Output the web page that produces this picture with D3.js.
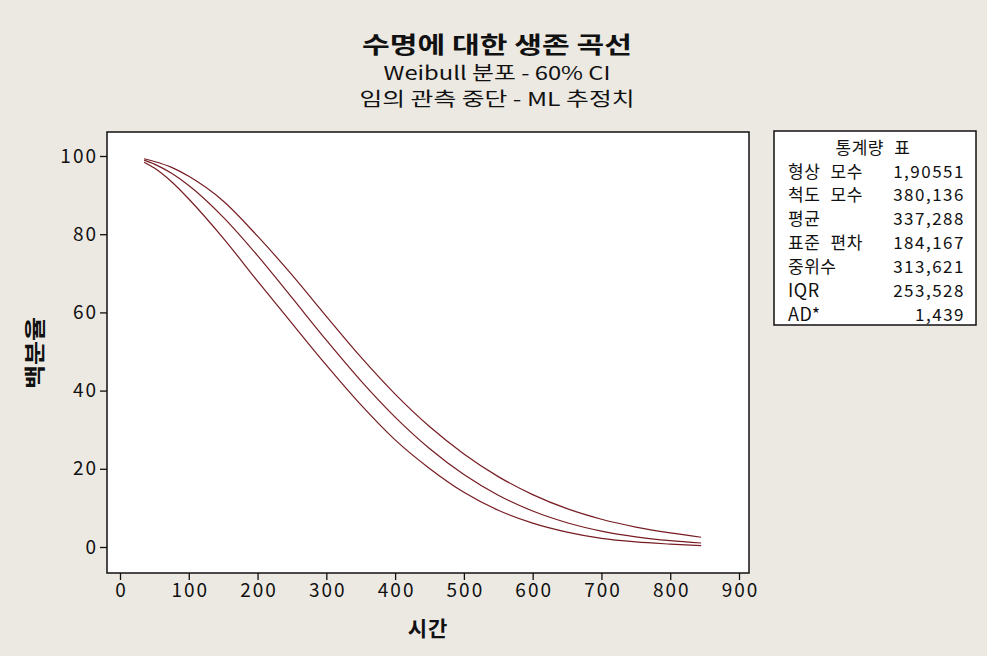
<!DOCTYPE html>
<html>
<head>
<meta charset="utf-8">
<script src="https://cdn.jsdelivr.net/npm/d3@7"></script>
<style>
  body { margin: 0; background: #ece9e3; }
  svg { display: block; }
  text { font-family: "Noto Sans CJK KR", "Noto Sans", sans-serif; fill: #111; }
</style>
</head>
<body>
<svg id="chart" width="987" height="656"></svg>
<script>
// time values where curves were read
const times = [35, 50, 75, 100, 150, 200, 250, 300, 350, 400, 450, 500, 550, 600, 650, 700, 750, 800, 845];
// percent surviving - fitted and 60% CI bounds
const fitted = [98.94, 97.93, 95.56, 92.45, 84.37, 74.52, 63.76, 52.89, 42.56, 33.23, 25.19, 18.53, 13.25, 9.20, 6.21, 4.07, 2.60, 1.61, 1.02];
const upper  = [99.3, 98.6, 97.1, 94.8, 88.5, 79.5, 69.6, 59.0, 48.6, 39.1, 30.8, 23.8, 18.0, 13.4, 9.8, 7.1, 5.1, 3.6, 2.5];
const lower  = [98.4, 96.9, 93.4, 89.0, 79.0, 68.0, 57.2, 46.5, 36.4, 27.4, 20.1, 14.0, 9.4, 6.1, 3.8, 2.2, 1.3, 0.75, 0.35];

const xTicks = [0, 100, 200, 300, 400, 500, 600, 700, 800, 900];
const yTicks = [0, 20, 40, 60, 80, 100];

const statLabels = ["형상 모수", "척도 모수", "평균", "표준 편차", "중위수", "IQR", "AD*"];
const statValues = ["1,90551", "380,136", "337,288", "184,167", "313,621", "253,528", "1,439"];

const svg = d3.select("#chart");

// plot frame
const frame = { left: 107, top: 132, right: 749, bottom: 573 };

const x = d3.scaleLinear().domain([0, 900]).range([120, 739]);
const y = d3.scaleLinear().domain([0, 100]).range([547, 156]);

svg.append("rect")
  .attr("x", frame.left).attr("y", frame.top)
  .attr("width", frame.right - frame.left).attr("height", frame.bottom - frame.top)
  .attr("fill", "#fff").attr("stroke", "#111").attr("stroke-width", 1.5);

// titles (widths stretched to match the wide bitmap font of the original)
const titles = [
  { t: "수명에 대한 생존 곡선", y: 47, size: 23, w: "bold", len: 270 },
  { t: "Weibull 분포 - 60% CI", y: 75, size: 19, w: "normal", len: 227 },
  { t: "임의 관측 중단 - ML 추정치", y: 101, size: 19, w: "normal", len: 275 }
];
svg.selectAll(".title").data(titles).enter().append("text")
  .attr("class", "title")
  .attr("x", 497).attr("y", d => d.y)
  .attr("text-anchor", "middle").attr("dominant-baseline", "middle")
  .attr("textLength", d => d.len).attr("lengthAdjust", "spacingAndGlyphs")
  .style("font-size", d => d.size + "px").style("font-weight", d => d.w)
  .text(d => d.t);

// axes
const xAxis = svg.append("g")
  .attr("transform", `translate(0,${frame.bottom})`)
  .call(d3.axisBottom(x).tickValues(xTicks).tickSize(7).tickPadding(4));
const yAxis = svg.append("g")
  .attr("transform", `translate(${frame.left},0)`)
  .call(d3.axisLeft(y).tickValues(yTicks).tickSize(7).tickPadding(3));

[xAxis, yAxis].forEach(g => {
  g.select(".domain").remove();
  g.selectAll(".tick line").attr("stroke", "#111").attr("stroke-width", 1.3);
  g.selectAll(".tick text")
    .style("font-size", "19px")
    .style("letter-spacing", "2px")
    .attr("fill", "#111");
});
// letter-spacing adds trailing space; nudge labels back
xAxis.selectAll(".tick text").attr("dx", "1px");
yAxis.selectAll(".tick text").attr("dx", "1px");

svg.append("text")
  .attr("x", (frame.left + frame.right) / 2).attr("y", 630)
  .attr("text-anchor", "middle").attr("dominant-baseline", "middle")
  .style("font-size", "21px").style("font-weight", "bold")
  .style("letter-spacing", "1px")
  .text("시간");

svg.append("text")
  .attr("transform", "translate(36,353) rotate(-90)")
  .attr("text-anchor", "middle").attr("dominant-baseline", "middle")
  .style("font-size", "21px").style("font-weight", "bold")
  .attr("textLength", 72).attr("lengthAdjust", "spacingAndGlyphs")
  .text("백분율");

// curves
const line = d3.line()
  .x((d, i) => x(times[i]))
  .y(d => y(d))
  .curve(d3.curveMonotoneX);

svg.selectAll(".curve").data([upper, fitted, lower]).enter().append("path")
  .attr("class", "curve")
  .attr("d", line)
  .attr("fill", "none")
  .attr("stroke", "#761c22")
  .attr("stroke-width", 1.2);

// stats table
const box = svg.append("g");
box.append("rect")
  .attr("x", 774).attr("y", 131).attr("width", 202).attr("height", 194)
  .attr("fill", "#fff").attr("stroke", "#111").attr("stroke-width", 1.5);

box.append("text")
  .attr("x", 873).attr("y", 149)
  .attr("text-anchor", "middle").attr("dominant-baseline", "middle")
  .style("font-size", "17px")
  .style("letter-spacing", "0.5px").style("word-spacing", "6px")
  .text("통계량 표");

const rowY = d3.scalePoint().domain(d3.range(statLabels.length)).range([173, 316]);
const isLatin = s => /^[A-Z*]+$/.test(s);

box.selectAll(".slab").data(statLabels).enter().append("text")
  .attr("class", "slab")
  .attr("x", 788).attr("y", (d, i) => rowY(i))
  .attr("dominant-baseline", "middle")
  .style("font-size", d => isLatin(d) ? "18px" : "17px")
  .style("letter-spacing", d => isLatin(d) ? "0.5px" : "0.5px")
  .style("word-spacing", "6px")
  .text(d => d);

box.selectAll(".sval").data(statValues).enter().append("text")
  .attr("class", "sval")
  .attr("x", 965).attr("y", (d, i) => rowY(i))
  .attr("text-anchor", "end").attr("dominant-baseline", "middle")
  .style("font-size", "17px")
  .style("letter-spacing", "1.5px")
  .text(d => d);
</script>
</body>
</html>
